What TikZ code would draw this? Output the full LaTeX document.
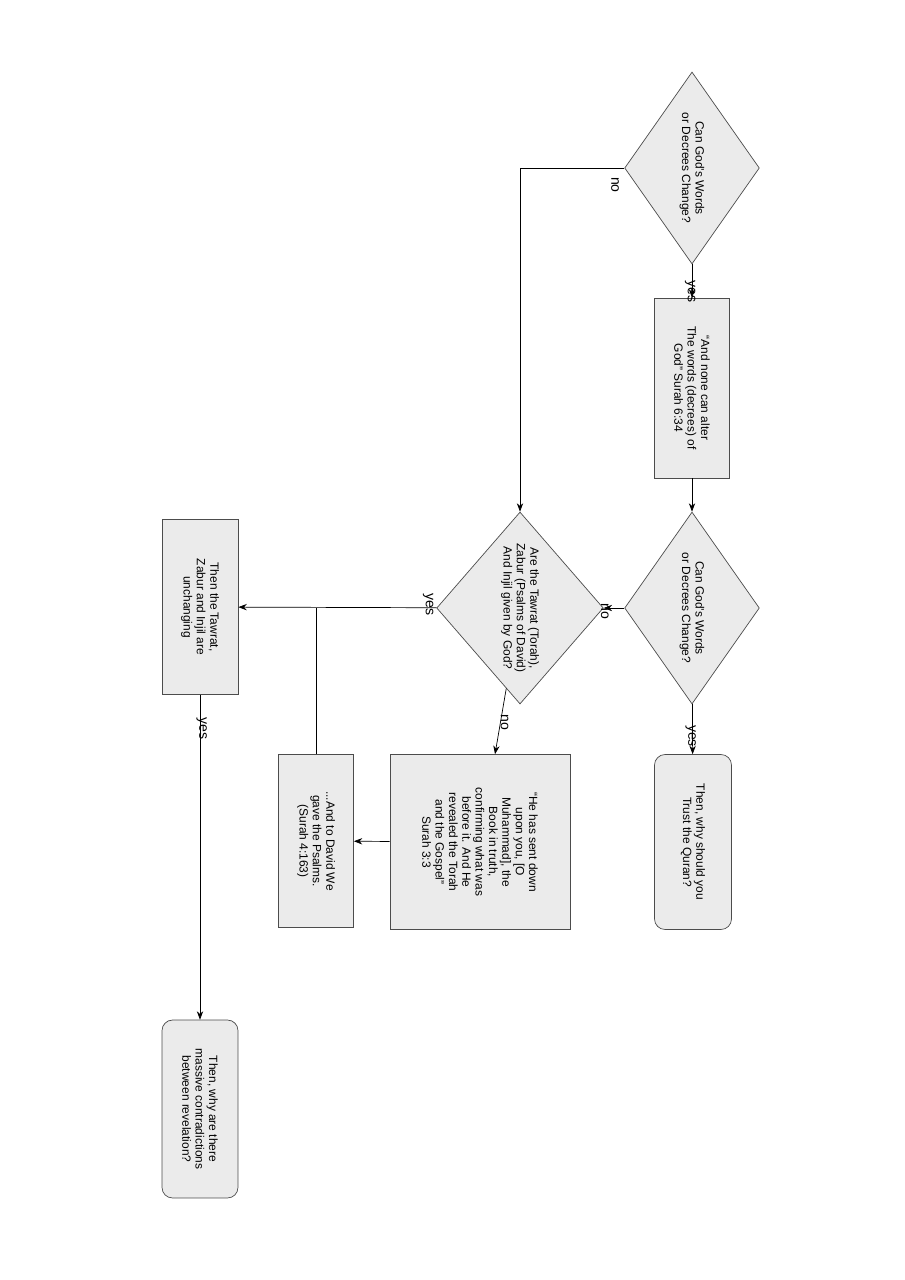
\documentclass[tikz,border=0pt]{standalone}
\usepackage{fontspec}
\setmainfont{Liberation Sans}
\usetikzlibrary{shapes.geometric,arrows.meta,positioning}

\begin{document}
\begin{tikzpicture}[x=0.02cm, y=-0.02cm, >=Stealth]
  \tikzstyle{dec}=[diamond, draw=black!70, fill=black!8, rotate=-90, inner sep=0pt, minimum width=3.84cm, minimum height=2cm, align=center, font=\fontsize{6.8}{7.6}\selectfont]
  \tikzstyle{box}=[rectangle, draw=black!70, fill=black!8, rotate=-90, align=center, inner sep=1pt, font=\fontsize{6.8}{7.6}\selectfont]
  \tikzstyle{ends}=[box, rounded corners=6pt]
  \tikzstyle{lbl}=[rotate=-90, font=\fontsize{8}{9}\selectfont]
  \useasboundingbox (0,0) rectangle (905,1280);

  % top row
  \node[dec] (q1) at (692,168) {Can God's Words\\or Decrees Change?};
  \node[box, minimum width=3.6cm, minimum height=1.5cm] (s634) at (692,388) {“And none can alter\\The words (decrees) of\\God” Surah 6:34};
  \node[dec] (q2) at (692,608) {Can God's Words\\or Decrees Change?};
  \node[ends, minimum width=3.5cm, minimum height=1.54cm] (quran) at (693,842) {Then, why should you\\Trust the Quran?};

  % middle row
  \node[dec, minimum height=1.96cm] (q3) at (520,608) {Are the Tawrat (Torah),\\Zabur (Psalms of David)\\And Injil given by God?};
  \node[box, minimum width=3.5cm, minimum height=3.6cm] (s33) at (480,842) {“He has sent down\\upon you, [O\\Muhammad], the\\Book in truth,\\confirming what was\\before it. And He\\revealed the Torah\\and the Gospel”\\Surah 3:3};
  \node[box, minimum width=3.46cm, minimum height=1.5cm] (s4163) at (316,841) {...And to David We\\gave the Psalms.\\(Surah 4:163)};

  % left row
  \node[box, minimum width=3.5cm, minimum height=1.52cm] (same) at (200,607) {Then the Tawrat,\\Zabur and Injil are\\unchanging};
  \node[ends, minimum width=3.56cm, minimum height=1.52cm] (contra) at (200,1109) {Then, why are there\\massive contradictions\\between revelation?};

  % Conexiones
  \draw[->] (q1) -- node[lbl, pos=0.3, right=-1pt] {yes} (s634);
  \draw[->] (s634) -- (q2);
  \draw[->] (q1) -| (q3);
  \node[lbl] at (615,185) {no};
  \draw[->] (q2) -- node[lbl, pos=0.3, right=-1pt] {yes} (quran);
  \draw[->] (q2) -- node[lbl, pos=0.45, below=2pt] {no} (q3);
  \draw[->] (q3) -- node[lbl, pos=0.1, above=2pt] {yes} (same);
  \draw[->] (q3) -- node[lbl, pos=0.3, right=1pt] {no} (s33);
  \draw[->] (s33) -- (s4163);
  \draw (s4163) -- (s4163 |- q3);
  \draw[->] (same) -- node[lbl, pos=0.05, right=1pt] {yes} (contra);
\end{tikzpicture}
\end{document}
